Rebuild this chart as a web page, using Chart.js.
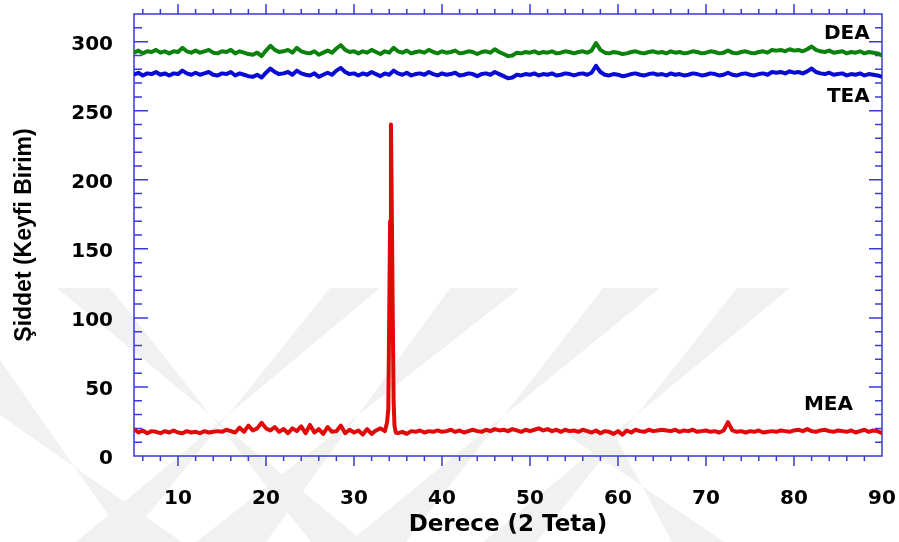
<!DOCTYPE html>
<html>
<head>
    <title>XRD - MEA DEA TEA</title>
    <script src="https://cdn.jsdelivr.net/npm/chart.js@4.4.1/dist/chart.umd.min.js"></script>
    <style>
        body { margin: 0; background: #fff; }
    </style>
</head>
<body>
    <canvas id="chartCanvas" width="899" height="542"></canvas>

    <script>
        // 2 teta degerleri (0.5 adim)
        const angles = [
            5, 5.5, 6, 6.5, 7, 7.5, 8, 8.5, 9, 9.5,
            10, 10.5, 11, 11.5, 12, 12.5, 13, 13.5, 14, 14.5,
            15, 15.5, 16, 16.5, 17, 17.5, 18, 18.5, 19, 19.5,
            20, 20.5, 21, 21.5, 22, 22.5, 23, 23.5, 24, 24.5,
            25, 25.5, 26, 26.5, 27, 27.5, 28, 28.5, 29, 29.5,
            30, 30.5, 31, 31.5, 32, 32.5, 33, 33.5, 34, 34.5,
            35, 35.5, 36, 36.5, 37, 37.5, 38, 38.5, 39, 39.5,
            40, 40.5, 41, 41.5, 42, 42.5, 43, 43.5, 44, 44.5,
            45, 45.5, 46, 46.5, 47, 47.5, 48, 48.5, 49, 49.5,
            50, 50.5, 51, 51.5, 52, 52.5, 53, 53.5, 54, 54.5,
            55, 55.5, 56, 56.5, 57, 57.5, 58, 58.5, 59, 59.5,
            60, 60.5, 61, 61.5, 62, 62.5, 63, 63.5, 64, 64.5,
            65, 65.5, 66, 66.5, 67, 67.5, 68, 68.5, 69, 69.5,
            70, 70.5, 71, 71.5, 72, 72.5, 73, 73.5, 74, 74.5,
            75, 75.5, 76, 76.5, 77, 77.5, 78, 78.5, 79, 79.5,
            80, 80.5, 81, 81.5, 82, 82.5, 83, 83.5, 84, 84.5,
            85, 85.5, 86, 86.5, 87, 87.5, 88, 88.5, 89, 89.5,
            90
        ];

        const dea = [
            292, 293.5, 291.5, 293, 292.5, 294, 292, 293, 291.5, 293,
            292.5, 295.5, 293, 292, 293.5, 292, 293, 294, 292, 291.5,
            293, 292.5, 294, 291.5, 293, 292, 291, 290.5, 292, 289.5,
            293.5, 297, 294, 292.5, 293, 294, 292, 295.5, 293, 292,
            291.5, 293, 290.5, 292, 293.5, 292, 295, 297.5, 294, 292.5,
            293, 291.5, 293, 292, 294, 292.5, 291, 293, 292, 295.5,
            293, 292, 293.5, 291.5, 292.5, 293, 292, 294, 292.5, 291.5,
            293, 292, 292.5, 293.5, 291.5, 292, 293, 292.5, 291, 292.5,
            293, 292, 294.5, 292.5, 291, 289.5, 290, 292, 291.5, 292.5,
            292, 293, 291.5, 292.5, 292, 293, 291.5, 292, 293, 292.5,
            291.5, 292.5, 293, 292, 293.5, 299, 294, 292, 291.5, 292.5,
            292, 291, 291.5, 292.5, 293, 292, 291.5, 292.5, 293, 292,
            292.5, 291.5, 293, 292, 292.5, 291.5, 292, 293, 292.5, 291.5,
            292, 293, 292.5, 291.5, 292, 293.5, 292, 291.5, 292.5, 293,
            292, 291.5, 292.5, 293, 292, 294, 293.5, 294, 293, 294.5,
            293.5, 294, 293, 294.5, 296.5, 294, 293, 292.5, 293.5, 292,
            292.5, 293, 291.5, 292.5, 292, 293, 291.5, 292.5, 292, 291.5,
            290
        ];

        const tea = [
            276, 277.5, 275.5, 277, 276.5, 278, 276, 277, 275.5, 277,
            276.5, 279, 277, 276, 277.5, 276, 277, 278, 276, 275.5,
            277, 276.5, 278, 275.5, 277, 276, 275, 274.5, 276, 274,
            277.5, 280.5, 278, 276.5, 277, 278, 276, 279, 277, 276,
            275.5, 277, 274.5, 276, 277.5, 276, 279, 281, 278, 276.5,
            277, 275.5, 277, 276, 278, 276.5, 275, 277, 276, 279,
            277, 276, 277.5, 275.5, 276.5, 277, 276, 278, 276.5, 275.5,
            277, 276, 276.5, 277.5, 275.5, 276, 277, 276.5, 275, 276.5,
            277, 276, 278, 276.5, 275, 273.5, 274, 276, 275.5, 276.5,
            276, 277, 275.5, 276.5, 276, 277, 275.5, 276, 277, 276.5,
            275.5, 276.5, 277, 276, 277.5, 282.5, 278, 276, 275.5, 276.5,
            276, 275, 275.5, 276.5, 277, 276, 275.5, 276.5, 277, 276,
            276.5, 275.5, 277, 276, 276.5, 275.5, 276, 277, 276.5, 275.5,
            276, 277, 276.5, 275.5, 276, 277.5, 276, 275.5, 276.5, 277,
            276, 275.5, 276.5, 277, 276, 278, 277.5, 278, 277, 278.5,
            277.5, 278, 277, 278.5, 280.5, 278, 277, 276.5, 277.5, 276,
            276.5, 277, 275.5, 276.5, 276, 277, 275.5, 276.5, 276, 275.5,
            274.5
        ];

        const mea = [
            19.5, 17, 18.5, 16.5, 18, 17.5, 16.5, 18, 17, 18.5,
            17, 16.5, 18, 17, 17.5, 16.5, 18, 17, 17.5, 18,
            17.5, 19, 18, 17, 20.5, 17.5, 22, 18.5, 20, 24,
            20, 18.5, 21, 17.5, 19.5, 16.5, 20, 18, 21.5, 16.5,
            22.5, 17, 19.5, 16, 21, 17.5, 18, 22, 16.5, 19,
            17, 18.5, 15.5, 19.5, 16, 18.5, 20, 18, 100, 40,
            16.5, 17.5, 16, 18, 17.5, 18.5, 17, 18, 17.5, 18.5,
            17.5, 18, 19, 17.5, 18.5, 17, 18, 19, 18, 17.5,
            19, 18, 19.5, 18.5, 19, 18, 19.5, 18.5, 17.5, 19,
            18, 19, 20, 18.5, 19.5, 18, 19, 17.5, 19, 18,
            18.5, 17.5, 19, 18, 17, 18.5, 16.5, 18, 17.5, 16,
            18, 15.5, 18.5, 17, 19, 18, 17.5, 19, 18, 18.5,
            19, 18.5, 18, 19, 17.5, 18.5, 18, 19, 17.5, 18,
            18.5, 17.5, 18, 17, 18.5, 24.5, 18.5, 17.5, 18, 17,
            18, 17.5, 18.5, 17, 17.5, 18, 17.5, 18.5, 18, 17.5,
            18.5, 19, 18, 19.5, 18, 17.5, 18.5, 19, 18, 17.5,
            18.5, 18, 17.5, 18.5, 17, 18, 19, 17.5, 18.5, 18,
            16.5
        ];

        // MEA piki icin ek olcumler
        const peakAngles = [33.75, 33.9, 34.1, 34.2, 34.3, 34.4, 34.6, 34.75];
        const peakValues = [24, 34, 170, 240, 175, 105, 22, 17];

        const xTicks = [10, 20, 30, 40, 50, 60, 70, 80, 90];
        const yTicks = [0, 50, 100, 150, 200, 250, 300];

        const seriesNames = ['DEA', 'TEA', 'MEA'];
        const seriesColors = ['#0b820b', '#0a0ad6', '#e00a0a'];
        const nameX = [88.6, 88.6, 86.7];
        const nameY = [306, 259.7, 37.3];

        const toPoints = (xs, ys) => xs.map((v, i) => ({ x: v, y: ys[i] }));
        const meaPoints = toPoints(angles, mea)
            .concat(toPoints(peakAngles, peakValues))
            .sort((a, b) => a.x - b.x);

        const bold = (family, size) => ({ family: family, weight: 'bold', size: size });

        // otomatik kenar boslugunu kapat, alan boyutunu sabitle
        const fixSize = (w, h) => s => {
            if (w !== null) s.width = w;
            if (h !== null) s.height = h;
            s.paddingTop = 0;
            s.paddingBottom = 0;
            s.paddingLeft = 0;
            s.paddingRight = 0;
        };

        // arka plandaki soluk filigran
        const watermark = {
            id: 'watermark',
            beforeDraw(chart) {
                const ctx = chart.ctx;
                const bands = [
                    [[0, 360], [0, 415], [127, 542], [182, 542]],
                    [[57, 288], [110, 288], [364, 542], [311, 542]],
                    [[330, 288], [380, 288], [126, 542], [76, 542]],
                    [[450, 288], [520, 288], [266, 542], [196, 542]],
                    [[603, 288], [660, 288], [406, 542], [349, 542]],
                    [[737, 288], [790, 288], [536, 542], [483, 542]],
                    [[560, 430], [612, 430], [724, 542], [672, 542]]
                ];
                ctx.save();
                ctx.fillStyle = '#f1f1f1';
                bands.forEach(b => {
                    ctx.beginPath();
                    ctx.moveTo(b[0][0], b[0][1]);
                    ctx.lineTo(b[1][0], b[1][1]);
                    ctx.lineTo(b[3][0], b[3][1]);
                    ctx.lineTo(b[2][0], b[2][1]);
                    ctx.closePath();
                    ctx.fill();
                });
                ctx.restore();
            }
        };

        // mavi cerceve ve tik cizgileri
        const frame = {
            id: 'frame',
            beforeDatasetsDraw(chart) {
                const { ctx, chartArea: a, scales: { x, y } } = chart;
                ctx.save();
                ctx.strokeStyle = '#3a3ad6';
                ctx.lineWidth = 1.5;
                ctx.strokeRect(a.left, a.top, a.right - a.left, a.bottom - a.top);
                ctx.beginPath();
                for (let v = 6; v < 90; v += 2) {
                    const px = x.getPixelForValue(v);
                    const len = v % 10 === 0 ? 10 : 5;
                    ctx.moveTo(px, a.bottom);
                    ctx.lineTo(px, a.bottom + len);
                    ctx.moveTo(px, a.top);
                    ctx.lineTo(px, a.top - len);
                }
                for (let v = 10; v < 320; v += 10) {
                    const py = y.getPixelForValue(v);
                    const major = v % 50 === 0;
                    ctx.moveTo(a.left, py);
                    ctx.lineTo(a.left + (major ? 14 : 8), py);
                    ctx.moveTo(a.right, py);
                    ctx.lineTo(a.right - (major ? 13 : 7), py);
                }
                ctx.stroke();
                ctx.restore();
            }
        };

        // seri adlari
        const names = {
            id: 'names',
            afterDatasetsDraw(chart) {
                const { ctx, scales: { x, y } } = chart;
                ctx.save();
                ctx.font = 'bold 20px "DejaVu Sans"';
                ctx.fillStyle = '#000';
                ctx.textAlign = 'right';
                ctx.textBaseline = 'middle';
                seriesNames.forEach((n, i) => {
                    ctx.fillText(n, x.getPixelForValue(nameX[i]), y.getPixelForValue(nameY[i]));
                });
                ctx.restore();
            }
        };

        const ctx = document.getElementById('chartCanvas').getContext('2d');
        const chart = new Chart(ctx, {
            type: 'line',
            data: {
                datasets: [
                    { label: 'DEA', data: toPoints(angles, dea), borderColor: seriesColors[0] },
                    { label: 'TEA', data: toPoints(angles, tea), borderColor: seriesColors[1] },
                    { label: 'MEA', data: meaPoints, borderColor: seriesColors[2] }
                ]
            },
            options: {
                responsive: false,
                animation: false,
                layout: { padding: { top: 14, right: 17, left: 0, bottom: 0 } },
                elements: {
                    line: { borderWidth: 4, tension: 0, borderJoinStyle: 'round' },
                    point: { radius: 0 }
                },
                plugins: {
                    legend: { display: false },
                    tooltip: { enabled: false }
                },
                scales: {
                    x: {
                        type: 'linear',
                        min: 5,
                        max: 90,
                        grid: { display: false, drawTicks: false },
                        border: { display: false },
                        afterBuildTicks: s => { s.ticks = xTicks.map(v => ({ value: v })); },
                        afterFit: fixSize(null, 86),
                        ticks: {
                            font: bold('DejaVu Sans', 20),
                            color: '#000',
                            padding: 31,
                            maxRotation: 0
                        },
                        title: {
                            display: true,
                            text: 'Derece (2 Teta)',
                            font: bold('DejaVu Sans', 23),
                            color: '#000',
                            padding: { top: 0, bottom: 3 }
                        }
                    },
                    y: {
                        min: 0,
                        max: 320,
                        grid: { display: false, drawTicks: false },
                        border: { display: false },
                        afterBuildTicks: s => { s.ticks = yTicks.map(v => ({ value: v })); },
                        afterFit: fixSize(134, null),
                        ticks: {
                            font: bold('DejaVu Sans', 20),
                            color: '#000',
                            padding: 21,
                            labelOffset: 3
                        },
                        title: {
                            display: true,
                            text: 'Şiddet (Keyfi Birim)',
                            font: bold('Liberation Sans', 23),
                            color: '#000',
                            padding: { top: 11, bottom: 0 }
                        }
                    }
                }
            },
            plugins: [watermark, frame, names]
        });
    </script>
</body>
</html>
